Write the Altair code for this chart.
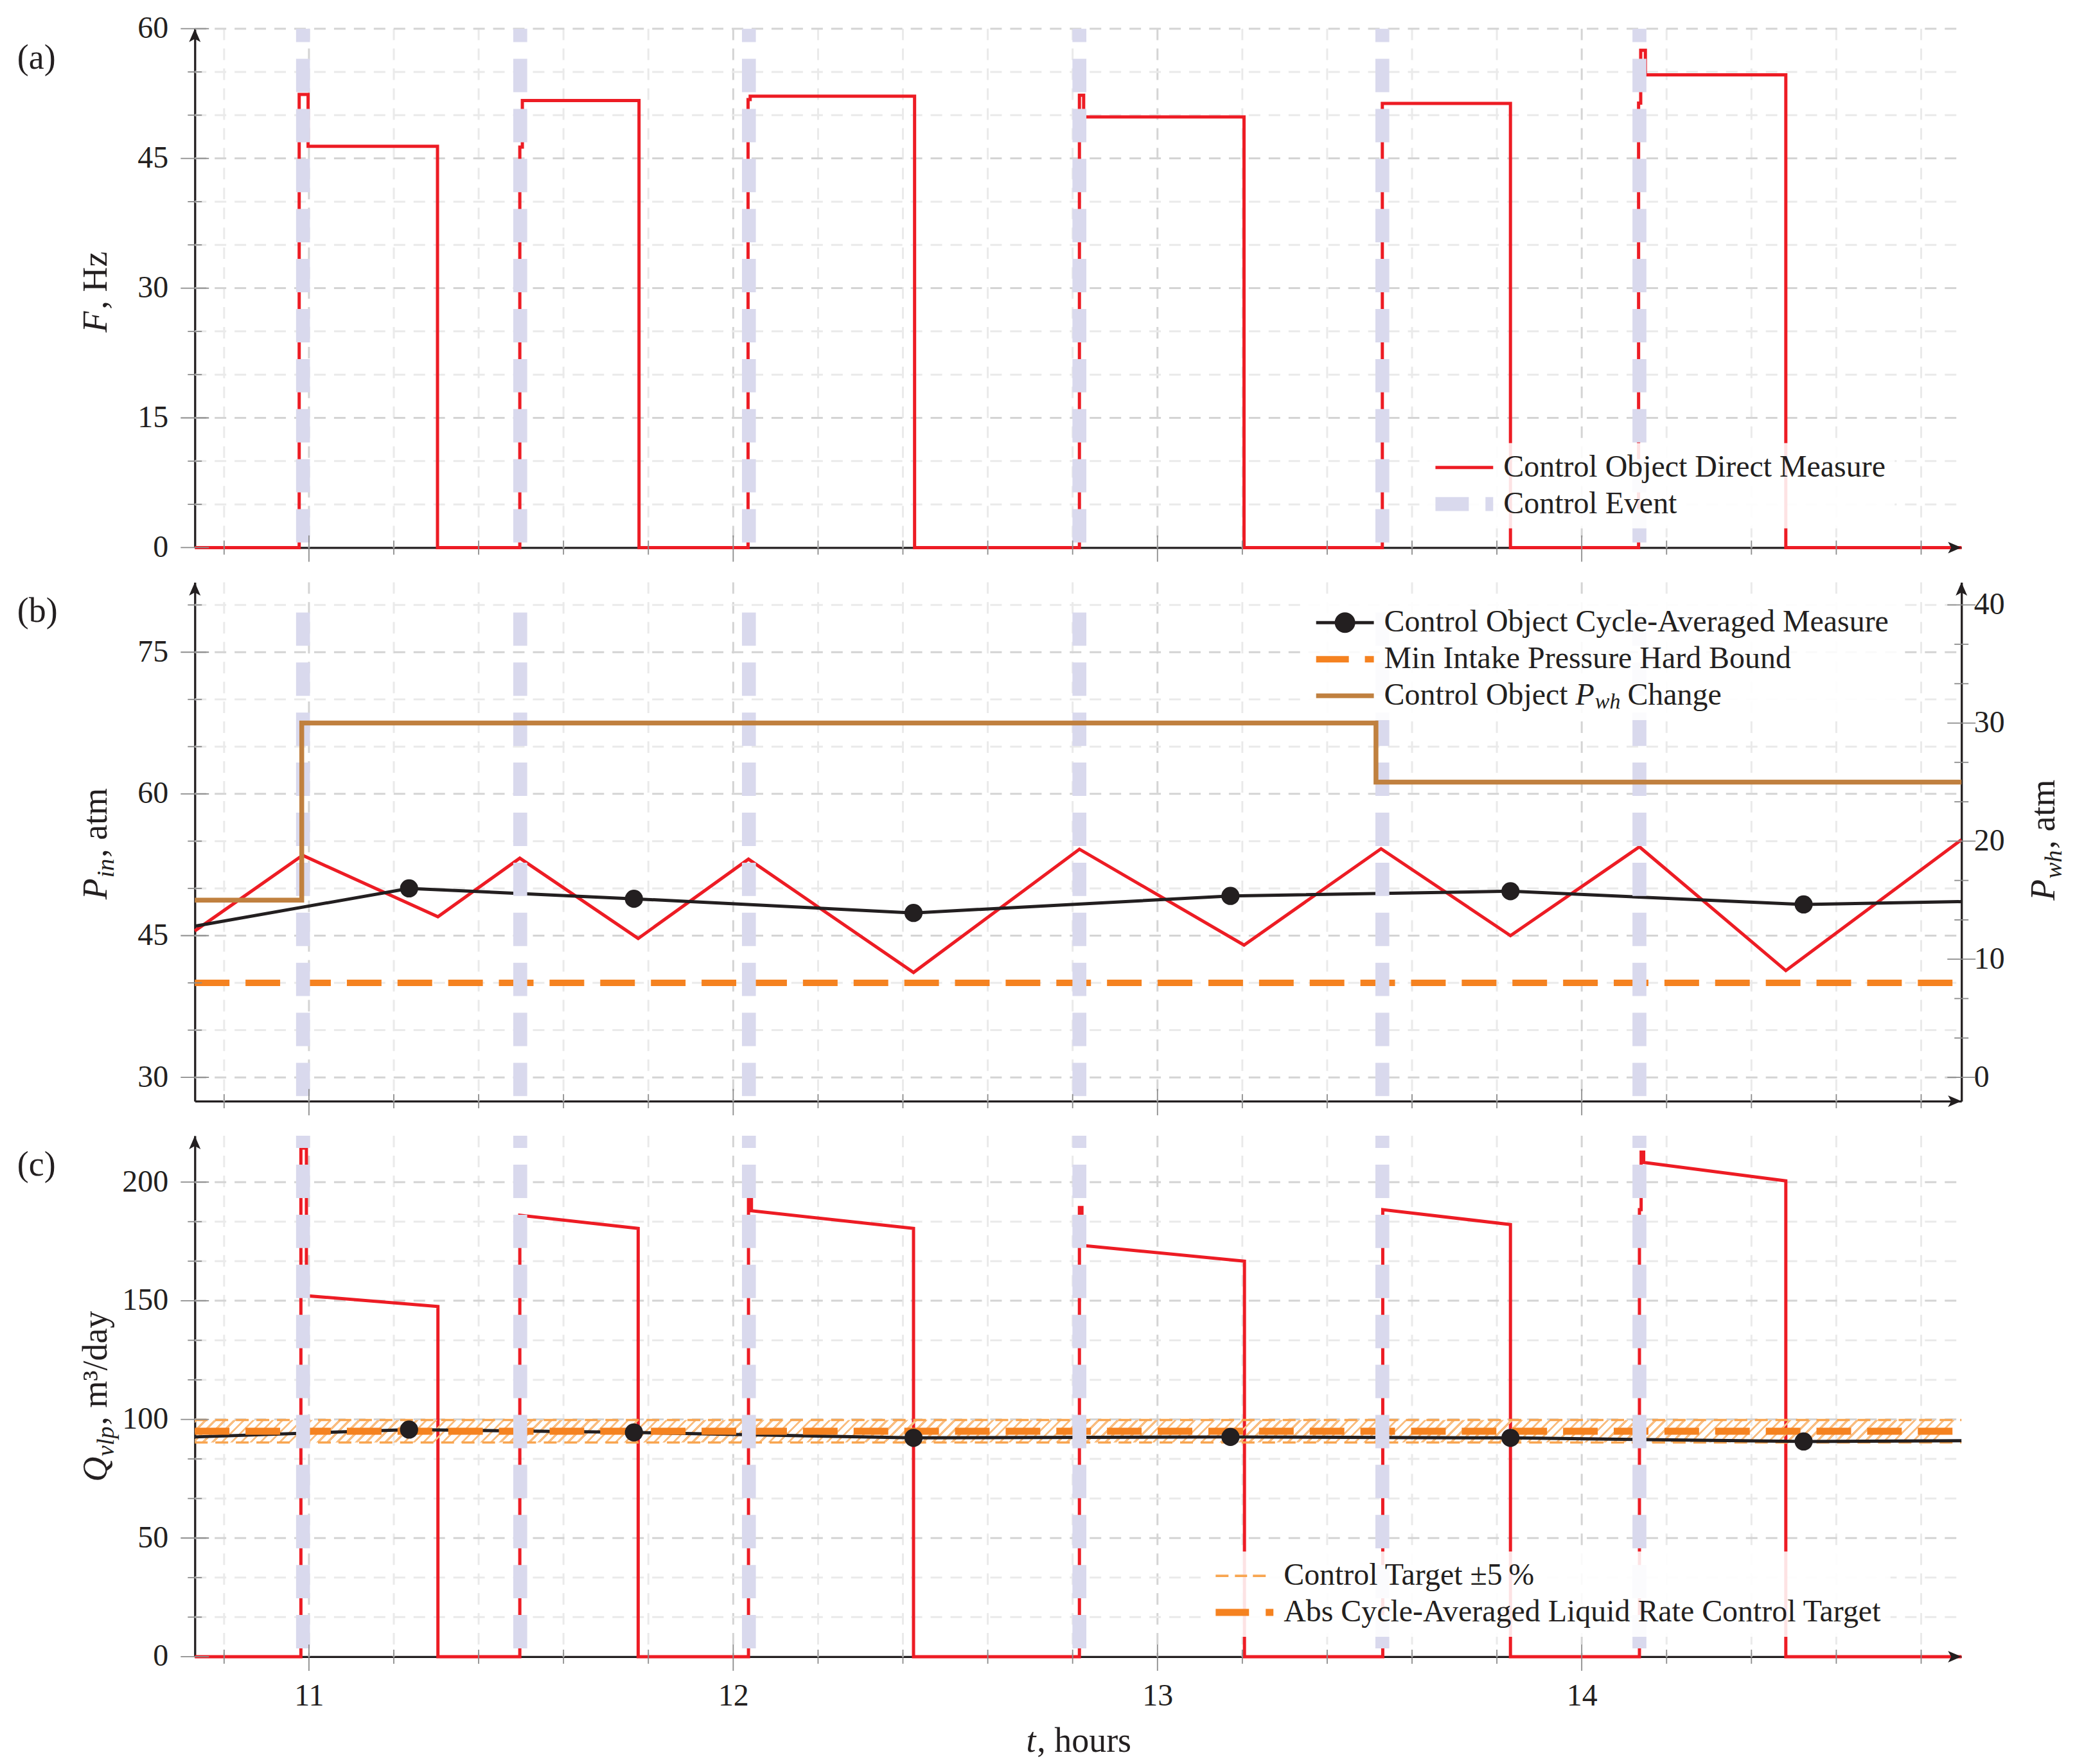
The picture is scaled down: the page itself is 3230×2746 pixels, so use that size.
import altair as alt
import pandas as pd

FONT = "Liberation Serif"
RED = "#ed1c24"
BLACK = "#231f20"
LAV = "#d9d9ed"
ORANGE = "#f58220"
ORANGE_L = "#f8a550"
HATCH = "#f9bd80"
BROWN = "#c0803f"
GRID_MAJ = "#d4d4d4"
GRID_MIN = "#eaeaea"
TICK_C = "#8c8c8c"
GRID_DASH = [18, 13]

W = 2754
HA, HB, HC = 809, 809, 812

# ---------------- data ----------------
T_RANGE = [10.731, 14.895]
F_RANGE = [0, 60]
PIN_RANGE = [27.48, 82.4]
PWH_RANGE = [-2.02, 41.92]
Q_RANGE = [0, 219.5]

X_MAJOR = [11, 12, 13, 14]
X_MINOR = [10.8, 11.2, 11.4, 11.6, 11.8, 12.2, 12.4, 12.6, 12.8, 13.2, 13.4,
           13.6, 13.8, 14.2, 14.4, 14.6, 14.8]
F_MAJOR = [0, 15, 30, 45, 60]
F_MINOR = [5, 10, 20, 25, 35, 40, 50, 55]
PIN_MAJOR = [30, 45, 60, 75]
PIN_MINOR = [35, 40, 50, 55, 65, 70, 80]
PWH_MAJOR = [0, 10, 20, 30, 40]
PWH_MINOR = [3.33, 6.67, 13.33, 16.67, 23.33, 26.67, 33.33, 36.67]
Q_MAJOR = [0, 50, 100, 150, 200]
Q_MINOR = [16.67, 33.33, 66.67, 83.33, 116.67, 133.33, 166.67, 183.33]

EVENTS = [10.986, 11.498, 12.037, 12.816, 13.530, 14.136]
EVENT_TOP = {"a": 60, "b": 79.2, "c": 219.5}

F_T = [10.731, 10.977, 10.977, 10.998, 10.998, 11.303, 11.303, 11.497, 11.497,
       11.503, 11.503, 11.778, 11.778, 12.035, 12.035, 12.040, 12.040, 12.4275,
       12.4275, 12.816, 12.816, 12.826, 12.826, 13.204, 13.204, 13.530, 13.530,
       13.832, 13.832, 14.134, 14.134, 14.139, 14.139, 14.150, 14.150, 14.481,
       14.481, 14.895]
F_V = [0, 0, 52.4, 52.4, 46.4, 46.4, 0, 0, 46.3, 46.3, 51.7, 51.7, 0, 0, 51.8,
       51.8, 52.2, 52.2, 0, 0, 52.3, 52.3, 49.8, 49.8, 0, 0, 51.35, 51.35, 0, 0,
       51.4, 51.4, 57.5, 57.5, 54.66, 54.66, 0, 0]

PIN_T = [10.731, 10.985, 11.304, 11.497, 11.776, 12.036, 12.425, 12.816, 13.204,
         13.527, 13.832, 14.136, 14.481, 14.895]
PIN_V = [45.5, 53.5, 47.0, 53.2, 44.7, 53.1, 41.1, 54.15, 44.0, 54.2, 45.0,
         54.4, 41.3, 55.15]

CYC_T = [10.731, 11.236, 11.766, 12.425, 13.172, 13.832, 14.523, 14.895]
CYC_MARK = [False, True, True, True, True, True, True, False]
PAVG_V = [46.0, 50.0, 48.9, 47.4, 49.2, 49.7, 48.3, 48.6]
QAVG_V = [92.6, 95.7, 94.5, 92.2, 92.6, 92.2, 90.7, 91.0]

PWH_T = [10.731, 10.983, 10.983, 13.515, 13.515, 14.895]
PWH_V = [15, 15, 30, 30, 25, 25]
PIN_BOUND = 40

Q_T = [10.731, 10.981, 10.981, 10.994, 10.994, 11.304, 11.304, 11.497, 11.497,
       11.776, 11.776, 12.036, 12.036, 12.043, 12.043, 12.425, 12.425, 12.816,
       12.816, 12.822, 12.822, 13.205, 13.205, 13.531, 13.531, 13.832, 13.832,
       14.136, 14.136, 14.140, 14.140, 14.146, 14.146, 14.481, 14.481, 14.895]
Q_V = [0, 0, 214.3, 214.3, 152.1, 147.6, 0, 0, 186.0, 180.5, 0, 0, 192.8, 192.8,
       187.9, 180.5, 0, 0, 189.3, 189.3, 173.3, 166.7, 0, 0, 188.4, 182.1, 0, 0,
       188.4, 188.4, 212.6, 212.6, 208.3, 200.5, 0, 0]
Q_TARGET = 95
Q_BAND = [90.25, 99.75]

LEG_A = ["Control Object Direct Measure", "Control Event"]
LEG_B = ["Control Object Cycle-Averaged Measure", "Min Intake Pressure Hard Bound",
         "Control Object"]
LEG_B_TAIL = ["P", "wh", "Change"]
LEG_C = ["Control Target \u00b15\u2009%", "Abs Cycle-Averaged Liquid Rate Control Target"]

# ------- legend symbol shapes (unit = 24 px, symbol spans x in [-1, 2.75]) -------
P_RED = "M-1,-0.104H2.75V0.104H-1Z"
P_EVENT = "M-1,-0.452H1.167V0.452H-1ZM2.25,-0.452H2.75V0.452H2.25Z"
P_AVG = ("M-1,-0.104H2.75V0.104H-1Z"
         "M1.542,0A0.667,0.667,0,1,1,0.208,0A0.667,0.667,0,1,1,1.542,0Z")
P_BOUND = "M-1,-0.208H1.125V0.208H-1ZM2.167,-0.208H2.75V0.208H2.167Z"
P_BROWN = "M-1,-0.156H2.75V0.156H-1Z"
P_BAND = ("M-1,-0.075H-0.167V0.075H-1ZM0.25,-0.075H1.042V0.075H0.25Z"
          "M1.417,-0.075H2.25V0.075H1.417Z")
P_TARGET = "M-1,-0.229H1.167V0.229H-1ZM2.25,-0.229H2.75V0.229H2.25Z"
ARROW_UP = "M0,0L0.45,1.05L0,0.8L-0.45,1.05Z"
ARROW_RIGHT = "M0,0L-1.05,-0.45L-0.8,0L-1.05,0.45Z"

LEG_DX = 6


def df(**cols):
    return pd.DataFrame(cols)


def xs(field, labels):
    return alt.X(f"{field}:Q", scale=alt.Scale(domain=T_RANGE, nice=False, zero=False),
                 axis=alt.Axis(values=X_MAJOR, labels=labels, ticks=False, grid=False,
                               domain=True, title=None, labelPadding=37.5, format="d"))


def make_ys(dom, values, orient="left", pad=41.6):
    def f(field):
        return alt.Y(f"{field}:Q", scale=alt.Scale(domain=dom, nice=False, zero=False),
                     axis=alt.Axis(values=values, orient=orient, ticks=False, grid=False,
                                   domain=True, title=None, labelPadding=pad, format="d"))
    return f


def grid_layers(ys, ymaj, ymin, H, xl, dom):
    L = []
    for vals, col in ((X_MINOR, GRID_MIN), (X_MAJOR, GRID_MAJ)):
        L.append(alt.Chart(df(t=vals)).mark_rule(color=col, strokeWidth=3, strokeDash=GRID_DASH)
                 .encode(x=xs("t", xl), y=alt.value(0), y2=alt.value(H)))
    for vals, col in ((ymin, GRID_MIN), ([v for v in ymaj if v > dom[0]], GRID_MAJ)):
        L.append(alt.Chart(df(v=vals)).mark_rule(color=col, strokeWidth=3, strokeDash=GRID_DASH)
                 .encode(y=ys("v"), x=alt.value(0), x2=alt.value(W)))
    return L


def xtick_layers(H, xl):
    return [
        alt.Chart(df(t=X_MINOR)).mark_rule(color=TICK_C, strokeWidth=1.8)
        .encode(x=xs("t", xl), y=alt.value(H - 11), y2=alt.value(H + 11)),
        alt.Chart(df(t=X_MAJOR)).mark_rule(color=TICK_C, strokeWidth=1.8)
        .encode(x=xs("t", xl), y=alt.value(H - 19), y2=alt.value(H + 22)),
    ]


def ytick_layers(ys, ymaj, ymin, x0, xl):
    return [
        alt.Chart(df(v=ymin)).mark_rule(color=TICK_C, strokeWidth=1.8)
        .encode(y=ys("v"), x=alt.value(x0 - 11), x2=alt.value(x0 + 11)),
        alt.Chart(df(v=ymaj)).mark_rule(color=TICK_C, strokeWidth=1.8)
        .encode(y=ys("v"), x=alt.value(x0 - 22), x2=alt.value(x0 + 22)),
    ]


def arrow(t, v, shape, ys, xl):
    return (alt.Chart(df(t=[t], v=[v]))
            .mark_point(shape=shape, size=1600, filled=True, color=BLACK, opacity=1)
            .encode(x=xs("t", xl), y=ys("v")))


def events_layer(dom, top, ys, xl, offset):
    return (alt.Chart(df(t=EVENTS, hi=[top] * len(EVENTS), lo=[dom[0]] * len(EVENTS)))
            .mark_rule(color=LAV, strokeWidth=21.7, strokeDash=[52, 26], strokeDashOffset=offset)
            .encode(x=xs("t", xl), y=ys("hi"), y2="lo:Q"))


def main_legend(field, keys, colors, shapes, lx, ly, ys, yv, xl):
    leg = alt.Legend(orient="none", legendX=lx + LEG_DX, legendY=ly, title=None, labelFont=FONT,
                     labelFontSize=48, labelColor=BLACK, labelLimit=3000, symbolSize=2304,
                     symbolStrokeWidth=0, symbolOpacity=1, labelOffset=58, padding=14,
                     rowPadding=9, fillColor="rgba(255,255,255,0.88)")
    n = len(keys)
    return (alt.Chart(df(**{field: keys, "t": [12.8] * n, "v": [yv] * n}))
            .mark_point(filled=True, opacity=0, size=1)
            .encode(x=xs("t", xl), y=ys("v"),
                    color=alt.Color(f"{field}:N", scale=alt.Scale(domain=keys, range=colors), legend=leg),
                    shape=alt.Shape(f"{field}:N", scale=alt.Scale(domain=keys, range=shapes), legend=leg)))


def word_legend(channel, name, field, word, lx, ly, size, style, ys, yv, xl, rng):
    leg = alt.Legend(orient="none", legendX=lx + LEG_DX, legendY=ly, title=None, labelFont=FONT,
                     labelFontSize=size, labelFontStyle=style, labelColor=BLACK, labelLimit=3000,
                     symbolSize=0, symbolStrokeWidth=0, symbolOpacity=0, labelOffset=0, padding=0)
    enc = channel(f"{field}:N", scale=alt.Scale(domain=[word], range=rng), legend=leg)
    return (alt.Chart(df(**{field: [word], "t": [12.8], "v": [yv]}))
            .mark_point(opacity=0, size=1)
            .encode(x=xs("t", xl), y=ys("v"), **{name: enc}))


def text(s, x, y, size=54, style="normal", angle=0):
    return (alt.Chart(df(s=[s]))
            .mark_text(font=FONT, fontSize=size, fontStyle=style, angle=angle, align="left",
                       baseline="alphabetic", color=BLACK)
            .encode(text="s:N", x=alt.value(x), y=alt.value(y)))


def order_df(ts, vs):
    return df(t=ts, v=vs, i=list(range(len(ts))))


# ---------------- panel (a) ----------------
ysa = make_ys(F_RANGE, F_MAJOR)
pa = alt.layer(
    *grid_layers(ysa, F_MAJOR, F_MINOR, HA, False, F_RANGE),
    alt.Chart(order_df(F_T, F_V)).mark_line(color=RED, strokeWidth=5, strokeJoin="miter")
    .encode(x=xs("t", False), y=ysa("v"), order="i:Q"),
    events_layer(F_RANGE, EVENT_TOP["a"], ysa, False, 31),
    *xtick_layers(HA, False),
    *ytick_layers(ysa, F_MAJOR, F_MINOR, 0, False),
    arrow(T_RANGE[0], F_RANGE[1], ARROW_UP, ysa, False),
    arrow(T_RANGE[1], F_RANGE[0], ARROW_RIGHT, ysa, False),
    main_legend("ka", LEG_A, [RED, LAV], [P_RED, P_EVENT], 1914, 646, ysa, 30, False),
    text("(a)", -276.9, 62),
    text("F", -137.6, 473.5, style="italic", angle=270),
    text(", Hz", -137.6, 437.5, angle=270),
).properties(width=W, height=HA)

# ---------------- panel (b) ----------------
ysb = make_ys(PIN_RANGE, PIN_MAJOR)
ysr = make_ys(PWH_RANGE, PWH_MAJOR, orient="right", pad=19)
cyc = df(t=CYC_T, p=PAVG_V, q=QAVG_V, mark=CYC_MARK)
left_b = alt.layer(
    *grid_layers(ysb, PIN_MAJOR, PIN_MINOR, HB, False, PIN_RANGE),
    alt.Chart(df(t=PIN_T, v=PIN_V)).mark_line(color=RED, strokeWidth=5)
    .encode(x=xs("t", False), y=ysb("v")),
    alt.Chart(cyc).mark_line(color=BLACK, strokeWidth=5).encode(x=xs("t", False), y=ysb("p")),
    alt.Chart(cyc).transform_filter("datum.mark").mark_point(filled=True, size=800, color=BLACK, opacity=1)
    .encode(x=xs("t", False), y=ysb("p")),
    alt.Chart(df(t0=[T_RANGE[0]], t1=[T_RANGE[1]], v=[PIN_BOUND]))
    .mark_rule(color=ORANGE, strokeWidth=10, strokeDash=[54, 25])
    .encode(x=xs("t0", False), x2="t1:Q", y=ysb("v")),
    events_layer(PIN_RANGE, EVENT_TOP["b"], ysb, False, 0),
    *xtick_layers(HB, False),
    *ytick_layers(ysb, PIN_MAJOR, PIN_MINOR, 0, False),
    arrow(T_RANGE[0], PIN_RANGE[1], ARROW_UP, ysb, False),
    arrow(T_RANGE[1], PIN_RANGE[0], ARROW_RIGHT, ysb, False),
    main_legend("kb", LEG_B, [BLACK, ORANGE, BROWN], [P_AVG, P_BOUND, P_BROWN],
                1728, 25, ysb, 60, False),
    word_legend(alt.Fill, "fill", "kb1", LEG_B_TAIL[0], 2098.4, 153, 48, "italic", ysb, 60, False, [BLACK]),
    word_legend(alt.Stroke, "stroke", "kb2", LEG_B_TAIL[1], 2142.7, 170, 34, "italic", ysb, 60, False, [BLACK]),
    word_legend(alt.StrokeDash, "strokeDash", "kb3", LEG_B_TAIL[2], 2179.4, 153, 48, "normal", ysb, 60,
                False, [[1, 0]]),
    text("(b)", -276.9, 62),
    text("P", -137.6, 494.5, style="italic", angle=270),
    text("in", -126.6, 460.5, size=38, style="italic", angle=270),
    text(", atm", -137.6, 428.9, angle=270),
    text("P", W + 144.5, 496, style="italic", angle=270),
    text("wh", W + 155.5, 462, size=38, style="italic", angle=270),
    text(", atm", W + 144.5, 415.7, angle=270),
)
right_b = alt.layer(
    alt.Chart(order_df(PWH_T, PWH_V)).mark_line(color=BROWN, strokeWidth=7.5, strokeJoin="miter")
    .encode(x=xs("t", False), y=ysr("v"), order="i:Q"),
    *ytick_layers(ysr, PWH_MAJOR, PWH_MINOR, W, False),
    arrow(T_RANGE[1], PWH_RANGE[1], ARROW_UP, ysr, False),
)
pb = alt.layer(left_b, right_b).resolve_scale(y="independent").properties(width=W, height=HB)

# ---------------- panel (c) ----------------
ysc = make_ys(Q_RANGE, Q_MAJOR)
band_px = (Q_BAND[1] - Q_BAND[0]) / (Q_RANGE[1] - Q_RANGE[0]) * HC
n_stripes = 184
stops = []
for k in range(n_stripes):
    a = k / n_stripes
    b = (k + 0.3) / n_stripes
    c = (k + 1) / n_stripes
    stops += [alt.GradientStop(offset=a, color=HATCH), alt.GradientStop(offset=b, color=HATCH),
              alt.GradientStop(offset=b, color="rgba(255,255,255,0)"),
              alt.GradientStop(offset=c, color="rgba(255,255,255,0)")]
hatch = alt.LinearGradient(gradient="linear", stops=stops, x1=0, y1=0, x2=1, y2=band_px / W)

pc = alt.layer(
    *grid_layers(ysc, Q_MAJOR, Q_MINOR, HC, True, Q_RANGE),
    alt.Chart(order_df(Q_T, Q_V)).mark_line(color=RED, strokeWidth=5, strokeJoin="miter")
    .encode(x=xs("t", True), y=ysc("v"), order="i:Q"),
    alt.Chart(df(t0=[T_RANGE[0]], t1=[T_RANGE[1]], lo=[Q_BAND[0]], hi=[Q_BAND[1]]))
    .mark_rect(fill=hatch, strokeWidth=0)
    .encode(x=xs("t0", True), x2="t1:Q", y=ysc("hi"), y2="lo:Q"),
    alt.Chart(df(t0=[T_RANGE[0]] * 2, t1=[T_RANGE[1]] * 2, v=Q_BAND))
    .mark_rule(color=ORANGE_L, strokeWidth=3.5, strokeDash=[20, 12])
    .encode(x=xs("t0", True), x2="t1:Q", y=ysc("v")),
    alt.Chart(cyc).mark_line(color=BLACK, strokeWidth=5).encode(x=xs("t", True), y=ysc("q")),
    alt.Chart(df(t0=[T_RANGE[0]], t1=[T_RANGE[1]], v=[Q_TARGET]))
    .mark_rule(color=ORANGE, strokeWidth=11, strokeDash=[54, 25])
    .encode(x=xs("t0", True), x2="t1:Q", y=ysc("v")),
    alt.Chart(cyc).transform_filter("datum.mark").mark_point(filled=True, size=800, color=BLACK, opacity=1)
    .encode(x=xs("t", True), y=ysc("q")),
    events_layer(Q_RANGE, EVENT_TOP["c"], ysc, True, 33),
    *xtick_layers(HC, True),
    *ytick_layers(ysc, Q_MAJOR, Q_MINOR, 0, True),
    arrow(T_RANGE[0], Q_RANGE[1], ARROW_UP, ysc, True),
    arrow(T_RANGE[1], Q_RANGE[0], ARROW_RIGHT, ysc, True),
    main_legend("kc", LEG_C, [ORANGE_L, ORANGE], [P_BAND, P_TARGET], 1571.4, 648, ysc, 150, True),
    text("(c)", -276.9, 62),
    text("Q", -137.6, 539.5, style="italic", angle=270),
    text("vlp", -126.6, 499.5, size=38, style="italic", angle=270),
    text(", m\u00b3/day", -137.6, 451.1, angle=270),
    text("t", 1296, HC + 148, style="italic"),
    text(", hours", 1313, HC + 148),
).properties(width=W, height=HC)

chart = (
    alt.vconcat(pa, pb, pc, spacing=54, bounds="flush")
    .resolve_scale(color="independent", shape="independent", fill="independent",
                   stroke="independent", strokeDash="independent")
    .properties(padding={"left": 18.7, "top": 10.7, "right": 5, "bottom": 5})
    .configure_view(strokeWidth=0)
    .configure_axis(labelFont=FONT, labelFontSize=48, labelColor=BLACK,
                    domainColor=BLACK, domainWidth=3.3)
)

chart.save("out.html", embed_options={"renderer": "svg", "actions": False})
